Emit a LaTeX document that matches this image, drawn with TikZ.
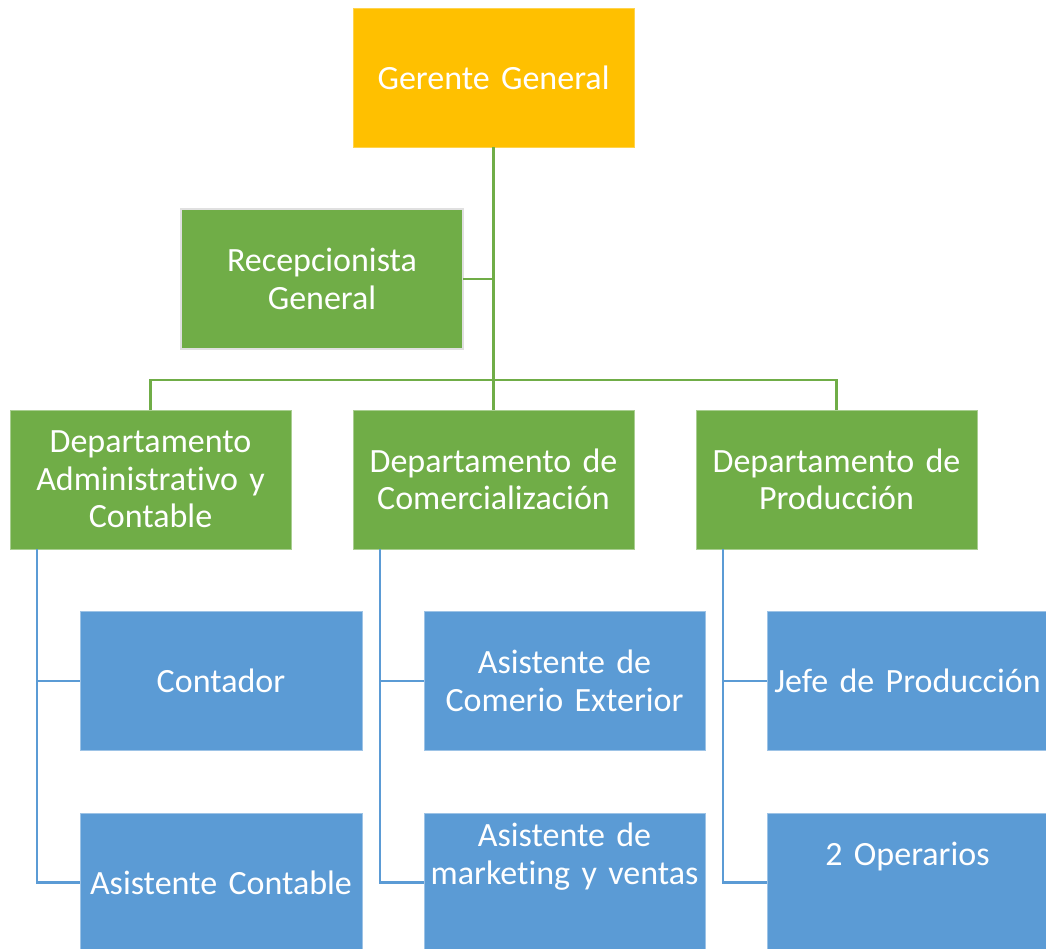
\documentclass[tikz,border=0pt]{standalone}
\usepackage{fontspec}
\setmainfont{Carlito}[Ligatures=NoCommon]
\definecolor{cOrange}{HTML}{FFC000}
\definecolor{cGreen}{HTML}{70AD47}
\definecolor{cBlue}{HTML}{5B9BD5}
\begin{document}
\begin{tikzpicture}[x=1pt,y=-1pt,
  box/.style={minimum width=281pt,minimum height=139pt,inner sep=0pt,outer sep=0pt,
    text width=275pt,align=center,text=white,font=\fontsize{34}{37.5}\selectfont},
  topbox/.style={box,fill=cOrange,draw=cOrange!70!white,line width=0.6pt},
  greenbox/.style={box,fill=cGreen,draw=cGreen!60!white,line width=0.6pt},
  bluebox/.style={box,fill=cBlue,draw=cBlue!60!white,line width=0.6pt},
  lbl/.style={inner sep=0pt,text width=275pt,align=center,text=white,font=\fontsize{34}{37.5}\selectfont},
  gline/.style={draw=cGreen,line width=2.8pt},
  bline/.style={draw=cBlue,line width=2.6pt}]
\useasboundingbox (0,0) rectangle (1046,948);
\fill[white] (0,0) rectangle (1046,948);

% top level
\node[topbox] (ger) at (493.5,77.5) {Gerente General};
\node[greenbox,minimum width=282pt,minimum height=140pt,draw=black!12,line width=2pt] (rec) at (322,279) {Recepcionista\\General};

% departments
\node[greenbox] (adm) at (150.5,479.5) {Departamento\\Administrativo y\\Contable};
\node[greenbox] (com) at (493.5,479.5) {Departamento de\\Comercialización};
\node[greenbox] (pro) at (836.5,479.5) {Departamento de\\Producción};

% children
\node[bluebox,minimum width=282pt] (a1) at (221,681) {Contador};
\node[bluebox,minimum width=282pt] (a2) at (221,882.5) {};
\node[lbl] (a2t) at (a2.center) {Asistente Contable};
\node[bluebox] (c1) at (564.5,681) {Asistente de\\Comerio Exterior};
\node[bluebox] (c2) at (564.5,882.5) {};
\node[lbl] (c2t) at ([yshift=26pt]a2.center -| c2.center) {Asistente de\\marketing y ventas};
\node[bluebox] (p1) at (907.5,681) {Jefe de Producción};
\node[bluebox] (p2) at (907.5,882.5) {};
\node[lbl] (p2t) at ([yshift=26pt]a2.center -| p2.center) {2 Operarios};

% green connectors
\coordinate (bus) at (493.5,380);
\draw[gline] (ger.south) -- (com.north);
\draw[gline] (rec.east) -- (rec.east -| ger.south);
\draw[gline] (adm.north) |- (bus) -| (pro.north);

% blue connectors
\draw[bline] ([xshift=27pt]adm.south west) |- (a1.west);
\draw[bline] ([xshift=27pt]adm.south west) |- (a2.west);
\draw[bline] ([xshift=27pt]com.south west) |- (c1.west);
\draw[bline] ([xshift=27pt]com.south west) |- (c2.west);
\draw[bline] ([xshift=27pt]pro.south west) |- (p1.west);
\draw[bline] ([xshift=27pt]pro.south west) |- (p2.west);
\end{tikzpicture}
\end{document}
